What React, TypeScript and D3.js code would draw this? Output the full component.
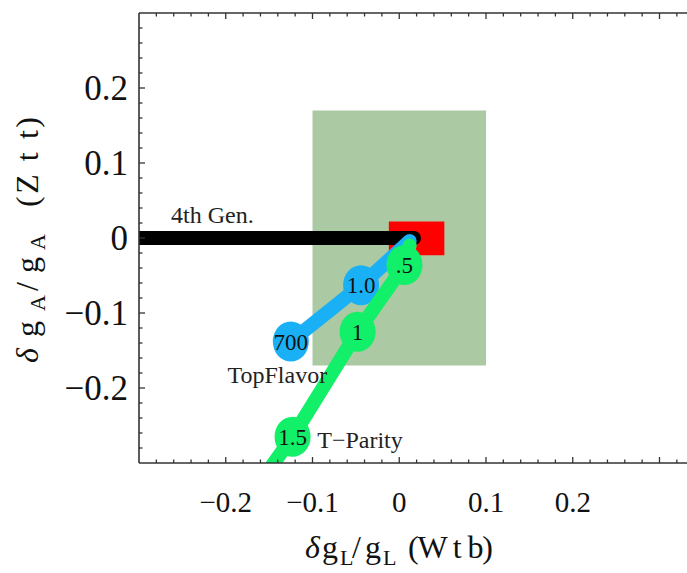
import React from "react";
import * as d3 from "d3";

// ---- data ----
const xMajorTicks = [-0.2, -0.1, 0, 0.1, 0.2];
const yMajorTicks = [-0.2, -0.1, 0, 0.1, 0.2];
const xTickLabels = ["\u22120.2", "\u22120.1", "0", "0.1", "0.2"];
const yTickLabels = ["0.2", "0.1", "0", "\u22120.1", "\u22120.2"];

const greenBoxX = [-0.1, 0.1];
const greenBoxY = [-0.17, 0.17];
const redBoxX = [-0.012, 0.052];
const redBoxY = [-0.023, 0.022];

const fourthGenX = [-0.3, 0.017];
const fourthGenY = [0, 0];

const topFlavorX = [0.012, -0.044, -0.125];
const topFlavorY = [-0.004, -0.063, -0.138];
const topFlavorLabels = ["", "1.0", "700"];

const tParityX = [0.012, 0.006, -0.048, -0.123, -0.2];
const tParityY = [-0.01, -0.036, -0.125, -0.265, -0.39];
const tParityLabels = ["", ".5", "1", "1.5", ""];

const annotations = [
  { text: "4th Gen.", x: -0.263, y: 0.02 },
  { text: "TopFlavor", x: -0.198, y: -0.193 },
  { text: "T\u2212Parity", x: -0.0945, y: -0.28 },
];

const W = 687;
const H = 573;
const FONT = "Liberation Serif";

export default function App() {
  const x = d3.scaleLinear().domain([-0.3, 0.35]).range([139, 139 + 0.65 * 867.5]);
  const y = d3.scaleLinear().domain([-0.3, 0.3]).range([463, 13]);
  const left = x(-0.3);
  const right = x(0.35);
  const top = y(0.3);
  const bottom = y(-0.3);

  const line = d3
    .line<[number, number]>()
    .x((d) => x(d[0]))
    .y((d) => y(d[1]));

  const minorX = d3.range(-14, 18).map((i) => i * 0.02);
  const minorY = d3.range(-14, 15).map((i) => i * 0.02);
  const isMajor = (v: number) => Math.abs(v * 10 - Math.round(v * 10)) < 1e-6;

  const blue = "#1ab0f6";
  const green = "#12ef68";

  const tf = topFlavorX.map((v, i) => [v, topFlavorY[i]] as [number, number]);
  const tp = tParityX.map((v, i) => [v, tParityY[i]] as [number, number]);

  return (
    <svg
      width={W}
      height={H}
      style={{ position: "absolute", left: 0, top: 0, background: "#fff", fontFamily: FONT }}
    >
      <defs>
        <clipPath id="plot">
          <rect x={left} y={top} width={right - left} height={bottom - top} />
        </clipPath>
      </defs>
      <rect x={0} y={0} width={W} height={H} fill="#fff" />
      <g clipPath="url(#plot)">
        <rect
          x={x(greenBoxX[0])}
          y={y(greenBoxY[1])}
          width={x(greenBoxX[1]) - x(greenBoxX[0])}
          height={y(greenBoxY[0]) - y(greenBoxY[1])}
          fill="#abcaa3"
        />
        <rect
          x={x(redBoxX[0])}
          y={y(redBoxY[1])}
          width={x(redBoxX[1]) - x(redBoxX[0])}
          height={y(redBoxY[0]) - y(redBoxY[1])}
          fill="#ff0000"
        />
        <path
          d={line(fourthGenX.map((v, i) => [v, fourthGenY[i]] as [number, number])) || ""}
          stroke="#000"
          strokeWidth={14}
          strokeLinecap="round"
          fill="none"
        />
        <path d={line(tf) || ""} stroke={blue} strokeWidth={14} strokeLinecap="round" strokeLinejoin="round" fill="none" />
        {tf.map((d, i) =>
          topFlavorLabels[i] ? (
            <ellipse key={"tfc" + i} cx={x(d[0])} cy={y(d[1])} rx={18} ry={20} fill={blue} />
          ) : null
        )}
        {tf.map((d, i) =>
          topFlavorLabels[i] ? (
            <text key={"tft" + i} x={x(d[0])} y={y(d[1]) + 8} fontSize={23} textAnchor="middle" fill="#111">
              {topFlavorLabels[i]}
            </text>
          ) : null
        )}
        <path d={line(tp) || ""} stroke={green} strokeWidth={14} strokeLinecap="round" strokeLinejoin="round" fill="none" />
        {tp.map((d, i) =>
          tParityLabels[i] ? (
            <ellipse key={"tpc" + i} cx={x(d[0])} cy={y(d[1])} rx={18} ry={20} fill={green} />
          ) : null
        )}
        {tp.map((d, i) =>
          tParityLabels[i] ? (
            <text key={"tpt" + i} x={x(d[0])} y={y(d[1]) + 8} fontSize={23} textAnchor="middle" fill="#111">
              {tParityLabels[i]}
            </text>
          ) : null
        )}
      </g>

      {annotations.map((a) => (
        <text key={a.text} x={x(a.x)} y={y(a.y)} fontSize={24} fill="#222">
          {a.text}
        </text>
      ))}

      {/* frame */}
      <g stroke="#333" strokeWidth={1.6}>
        <line x1={left} y1={top} x2={right} y2={top} />
        <line x1={left} y1={bottom} x2={right} y2={bottom} />
        <line x1={left} y1={top} x2={left} y2={bottom} />
      </g>
      <g stroke="#333" strokeWidth={1.3}>
        {minorX.map((v) => {
          const len = isMajor(v) ? 6 : 3.5;
          const px = x(v);
          return (
            <g key={"xt" + v}>
              <line x1={px} x2={px} y1={bottom} y2={bottom - len} />
              <line x1={px} x2={px} y1={top} y2={top + len} />
            </g>
          );
        })}
        {minorY.map((v) => {
          const len = isMajor(v) ? 6 : 3.5;
          const py = y(v);
          return <line key={"yt" + v} x1={left} x2={left + len} y1={py} y2={py} />;
        })}
      </g>

      {/* tick labels */}
      {xMajorTicks.map((v, i) => (
        <text key={"xl" + i} x={x(v)} y={512} fontSize={29} textAnchor="middle" fill="#111">
          {xTickLabels[i]}
        </text>
      ))}
      {yMajorTicks
        .slice()
        .reverse()
        .map((v, i) => (
          <text key={"yl" + i} x={128} y={y(v) + 12} fontSize={35} textAnchor="end" fill="#111">
            {yTickLabels[i]}
          </text>
        ))}

      {/* x title */}
      <g fill="#111" fontSize={32}>
        <text x={305} y={558} fontStyle="italic">δ</text>
        <text x={322} y={558}>g</text>
        <text x={340} y={565} fontSize={22}>L</text>
        <text x={352} y={558}>/</text>
        <text x={365} y={558}>g</text>
        <text x={383} y={565} fontSize={22}>L</text>
        <text x={408} y={558} textLength={85} lengthAdjust="spacing">(W t b)</text>
      </g>

      {/* y title */}
      <g fill="#111" fontSize={32} transform="translate(38,367) rotate(-90)">
        <text x={4} y={0} fontStyle="italic">δ</text>
        <text x={30} y={0}>g</text>
        <text x={56} y={7} fontSize={22}>A</text>
        <text x={76} y={0}>/</text>
        <text x={94} y={0}>g</text>
        <text x={117} y={7} fontSize={22}>A</text>
        <text x={160} y={0} textLength={90} lengthAdjust="spacing">(Z t t)</text>
      </g>
    </svg>
  );
}
